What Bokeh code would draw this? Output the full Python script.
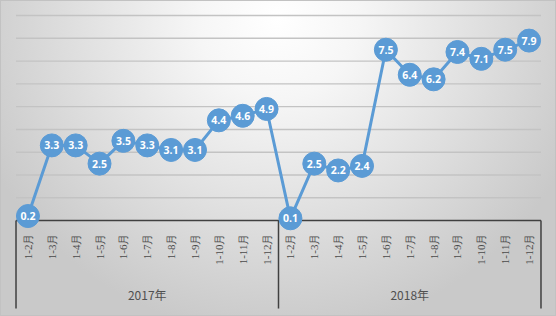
import math
from bokeh.plotting import figure
from bokeh.models import FactorRange, Range1d
from bokeh.core.properties import value
from bokeh.embed import file_html
from bokeh.resources import INLINE

years = ["2017年", "2018年"]
months = ["1-2月", "1-3月", "1-4月", "1-5月", "1-6月", "1-7月",
          "1-8月", "1-9月", "1-10月", "1-11月", "1-12月"]
values_2017 = [0.2, 3.3, 3.3, 2.5, 3.5, 3.3, 3.1, 3.1, 4.4, 4.6, 4.9]
values_2018 = [0.1, 2.5, 2.2, 2.4, 7.5, 6.4, 6.2, 7.4, 7.1, 7.5, 7.9]
grid_levels = [1, 2, 3, 4, 5, 6, 7, 8, 9]

factors = [(y, m) for y in years for m in months]
vals = values_2017 + values_2018
labels = ["%.1f" % v for v in vals]
n = len(factors)

x_range = FactorRange(*factors, factor_padding=0, group_padding=0,
                      range_padding=0.65, range_padding_units="absolute")
p = figure(width=556, height=316, x_range=x_range, y_range=Range1d(-4.21, 9.66),
           output_backend="svg", toolbar_location=None, min_border=0,
           x_axis_location=None, y_axis_location=None, title=None)
p.grid.visible = False
p.background_fill_color = None
p.border_fill_color = None
p.outline_line_color = None
p.styles = {
    "background": "radial-gradient(ellipse 58% 100% at 50% 6%, #ffffff 0%, #f6f6f6 25%, #c9c9c9 100%)",
    "box-shadow": "inset 0 0 0 1px #c2c2c2",
}

# gridlines
p.segment(x0=0, x1=n, y0=grid_levels, y1=grid_levels, line_color="#c3c3c3", line_width=1.4)
# baseline and group separators
p.segment(x0=0, x1=n, y0=0, y1=0, line_color="#404040", line_width=1.5)
seps = [0, len(months), n]
p.segment(x0=seps, x1=seps, y0=0, y1=-3.86, line_color="#404040", line_width=1.5)

# month labels
p.text(x=factors, y=-0.57, text=[m for _, m in factors], angle=math.pi / 2,
       text_align="right", text_baseline="middle",
       text_font=value("Liberation Serif"), text_font_size="11px", text_color="#4a4a4a")
# year labels
p.text(x=years, y=-3.25, text=years, text_align="center", text_baseline="middle",
       text_font=value("Noto Sans CJK SC"), text_font_size="12px", text_color="#505050")

# data
p.line(x=factors, y=vals, line_color="#5b9bd5", line_width=3)
p.scatter(x=factors, y=vals, size=23, fill_color="#5b9bd5", line_color="#5b9bd5")
p.text(x=factors, y=vals, text=labels, text_align="center", text_baseline="middle",
       text_font=value("Open Sans"), text_font_style="bold", text_font_size="10.5px",
       text_color="white")

open("out.html", "w").write(file_html(p, INLINE))
